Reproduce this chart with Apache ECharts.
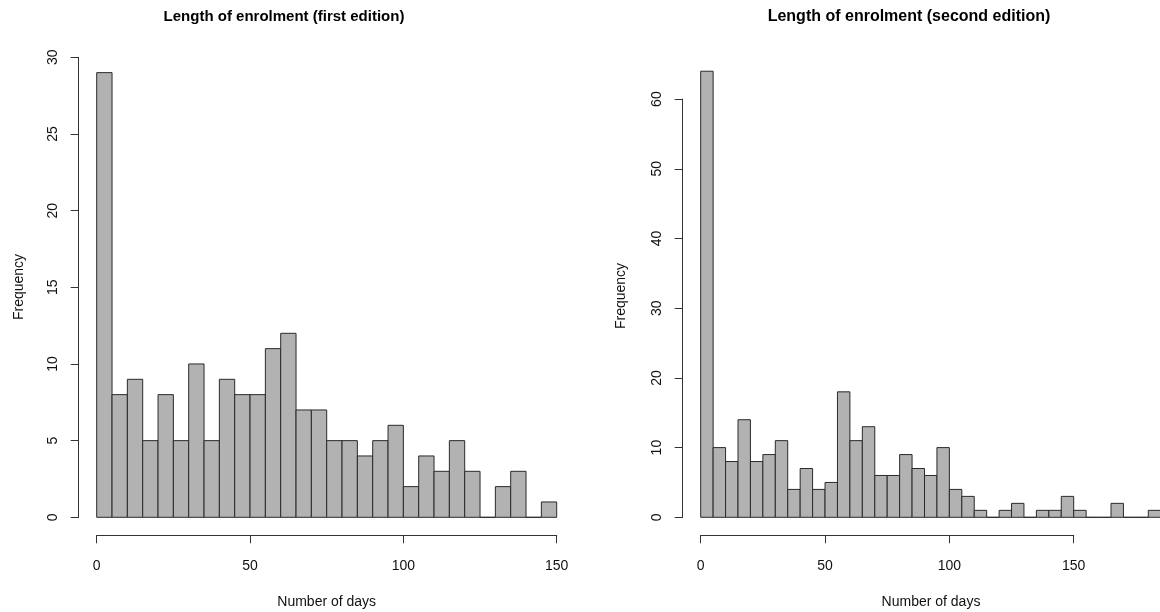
<!DOCTYPE html>
<html>
<head>
<meta charset="utf-8">
<script src="https://cdn.jsdelivr.net/npm/echarts@6/dist/echarts.min.js"></script>
<style>
html,body{margin:0;padding:0;background:#fff;}
#chart{width:1160px;height:612px;}
</style>
</head>
<body>
<div id="chart"></div>
<script>
// ---- data ----
const binWidth = 5;
const firstEditionCounts = [29, 8, 9, 5, 8, 5, 10, 5, 9, 8, 8, 11, 12, 7, 7, 5, 5, 4, 5, 6, 2, 4, 3, 5, 3, 0, 2, 3, 0, 1];
const secondEditionCounts = [64, 10, 8, 14, 8, 9, 11, 4, 7, 4, 5, 18, 11, 13, 6, 6, 9, 7, 6, 10, 4, 3, 1, 0, 1, 2, 0, 1, 1, 3, 1, 0, 0, 2, 0, 0, 1];
const xTicksFirst = [0, 50, 100, 150];
const yTicksFirst = [0, 5, 10, 15, 20, 25, 30];
const xTicksSecond = [0, 50, 100, 150];
const yTicksSecond = [0, 10, 20, 30, 40, 50, 60];
const titleFirst = 'Length of enrolment (first edition)';
const titleSecond = 'Length of enrolment (second edition)';
const xName = 'Number of days';
const yName = 'Frequency';

// ---- helpers ----
const FONT = '"Liberation Sans", Arial, Helvetica, sans-serif';
function bins(counts) {
  return counts.map((c, i) => [i * binWidth, (i + 1) * binWidth, c]);
}
function renderBar(params, api) {
  const x0 = api.value(0), x1 = api.value(1), y = api.value(2);
  const p0 = api.coord([x0, 0]);
  const p1 = api.coord([x1, y]);
  return {
    type: 'rect',
    shape: { x: p0[0], y: p1[1], width: p1[0] - p0[0], height: p0[1] - p1[1] },
    style: { fill: '#b2b2b2', stroke: '#2a2a2a', lineWidth: 1 }
  };
}
function xAxisFor(gridIndex, ticks) {
  return {
    type: 'value', gridIndex,
    min: ticks[0], max: ticks[ticks.length - 1], interval: ticks[1] - ticks[0],
    position: 'bottom', offset: 18,
    axisLine: { show: true, onZero: false, lineStyle: { color: '#333', width: 1 } },
    axisTick: { show: true, length: 8, lineStyle: { color: '#333', width: 1 } },
    axisLabel: { show: true, margin: 24, color: '#111', fontSize: 14, fontFamily: FONT },
    splitLine: { show: false }
  };
}
function yAxisFor(gridIndex, ticks) {
  return {
    type: 'value', gridIndex,
    min: ticks[0], max: ticks[ticks.length - 1], interval: ticks[1] - ticks[0],
    position: 'left', offset: 18,
    axisLine: { show: true, onZero: false, lineStyle: { color: '#333', width: 1 } },
    axisTick: { show: true, length: 8, lineStyle: { color: '#333', width: 1 } },
    axisLabel: { show: true, rotate: 90, margin: 19, color: '#111', fontSize: 14, fontFamily: FONT },
    splitLine: { show: false }
  };
}
function label(text, x, y, opts) {
  return Object.assign({
    type: 'text', x, y,
    style: { text, fill: '#111', font: '14px ' + FONT, textAlign: 'center', textVerticalAlign: 'middle' }
  }, opts || {});
}

const chart = echarts.init(document.getElementById('chart'), null, { renderer: 'canvas' });
chart.setOption({
  animation: false,
  backgroundColor: '#fff',
  grid: [
    { left: 96.7, top: 57.3, width: 460, height: 460 },
    { left: 700.7, top: 99.1, width: 373, height: 418.2 }
  ],
  xAxis: [xAxisFor(0, xTicksFirst), xAxisFor(1, xTicksSecond)],
  yAxis: [yAxisFor(0, yTicksFirst), yAxisFor(1, yTicksSecond)],
  series: [
    { type: 'custom', xAxisIndex: 0, yAxisIndex: 0, clip: false, renderItem: renderBar, data: bins(firstEditionCounts) },
    { type: 'custom', xAxisIndex: 1, yAxisIndex: 1, clip: false, renderItem: renderBar, data: bins(secondEditionCounts) }
  ],
  graphic: [
    { type: 'text', x: 284, y: 17, style: { text: titleFirst, fill: '#000', font: 'bold 15px ' + FONT, textAlign: 'center', textVerticalAlign: 'middle' } },
    { type: 'text', x: 909, y: 17, style: { text: titleSecond, fill: '#000', font: 'bold 16px ' + FONT, textAlign: 'center', textVerticalAlign: 'middle' } },
    label(xName, 326.7, 602),
    label(xName, 931, 602),
    label(yName, 19, 287, { rotation: Math.PI / 2 }),
    label(yName, 621, 296, { rotation: Math.PI / 2 })
  ]
});
</script>
</body>
</html>
